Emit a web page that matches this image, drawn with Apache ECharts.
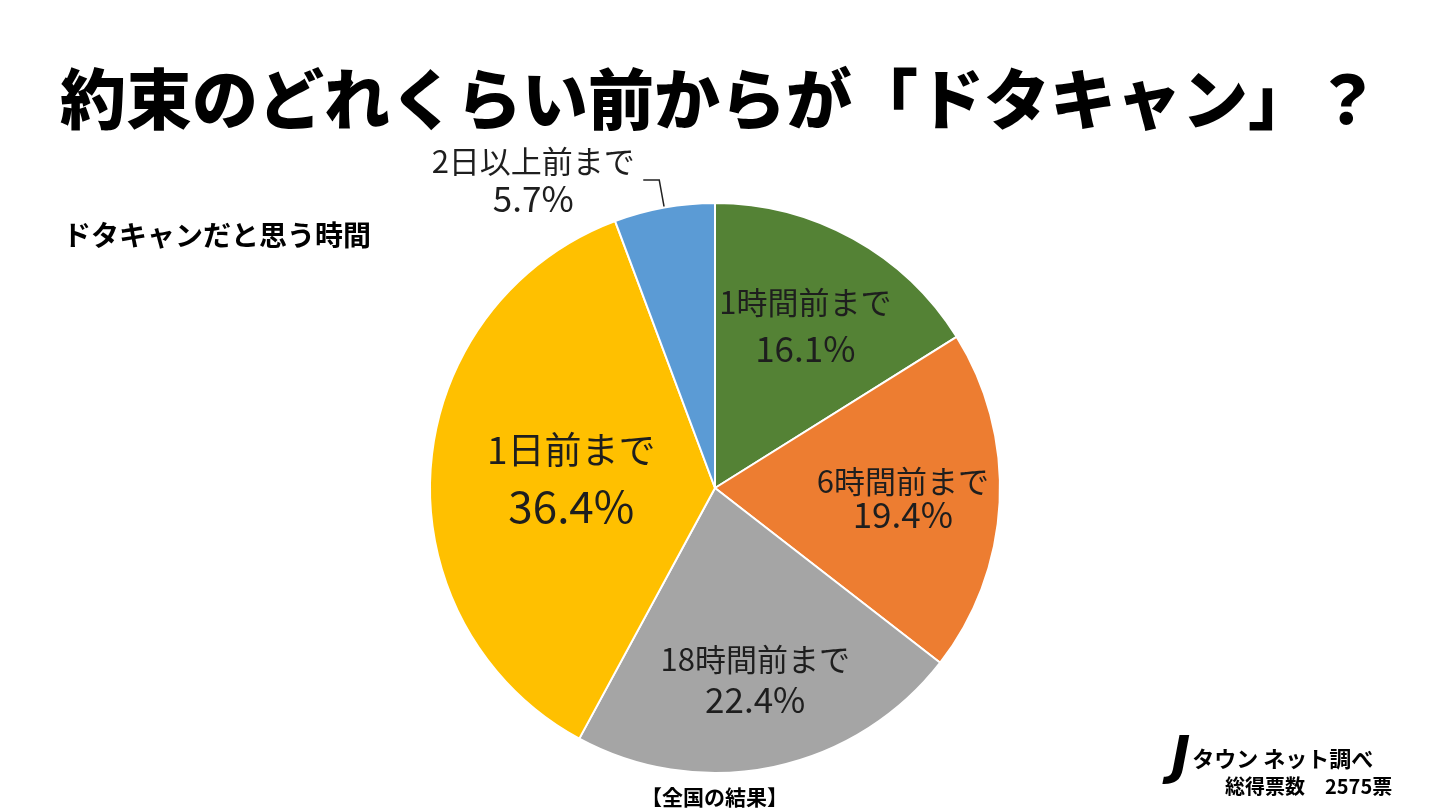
<!DOCTYPE html>
<html>
<head>
<meta charset="utf-8">
<script src="https://cdn.jsdelivr.net/npm/echarts@6/dist/echarts.min.js"></script>
<style>
html,body{margin:0;padding:0;background:#fff;}
#chart{width:1440px;height:810px;}
</style>
</head>
<body>
<div id="chart"></div>
<script>
const categories = ['1時間前まで', '6時間前まで', '18時間前まで', '1日前まで', '2日以上前まで'];
const values = [16.1, 19.4, 22.4, 36.4, 5.7];
const colors = ['#548235', '#ED7D31', '#A5A5A5', '#FFC000', '#5B9BD5'];

const FONT = '"Noto Sans CJK JP", "Noto Sans", sans-serif';
const CX = 715, CY = 488, R = 285;
// radial position of each inside label, as a fraction of the radius
const labelRadiusFrac = [0.65, 0.66, 0.69, 0.505, null];
const labelStyle = [
  { t: 31, p: 35, lh: 46 },
  { t: 31, p: 35, lh: 34 },
  { t: 31, p: 35, lh: 41 },
  { t: 37, p: 44, lh: 56 },
  { t: 31, p: 35, lh: 38 }
];

const data = categories.map((name, i) => {
  const st = labelStyle[i];
  const item = {
    name: name,
    value: values[i],
    itemStyle: { color: colors[i] },
    label: {
      show: true,
      position: 'inside',
      formatter: '{t|{b}}\n{p|{c}%}',
      rich: {
        t: { fontSize: st.t, lineHeight: st.lh, color: '#1e1e1e', fontFamily: FONT, align: 'center' },
        p: { fontSize: st.p, lineHeight: st.lh, color: '#1e1e1e', fontFamily: FONT, align: 'center' }
      }
    }
  };
  if (labelRadiusFrac[i] === null) {
    item.label.position = 'outside';
    item.label.rich.t.width = 210;
    item.label.rich.p.width = 210;
    item.labelLine = {
      show: true,
      length: 28,
      length2: 16,
      lineStyle: { color: '#222', width: 1.5 }
    };
  }
  return item;
});

const chart = echarts.init(document.getElementById('chart'));
chart.setOption({
  backgroundColor: '#ffffff',
  animation: false,
  title: [
    {
      text: '約束のどれくらい前からが「ドタキャン」？',
      left: 'center',
      top: 61,
      textStyle: { fontSize: 66, fontWeight: 900, color: '#000', fontFamily: FONT }
    },
    {
      text: 'ドタキャンだと思う時間',
      left: 58,
      top: 216,
      textStyle: { fontSize: 28, fontWeight: 'bold', color: '#000', fontFamily: FONT }
    },
    {
      text: '【全国の結果】',
      left: 636,
      top: 782,
      textStyle: { fontSize: 21, fontWeight: 'bold', color: '#000', fontFamily: FONT }
    },
    {
      text: '{j|J}{t|タウン ネット調べ}',
      left: 1166,
      top: 728,
      textStyle: {
        rich: {
          j: { fontSize: 52, fontWeight: 'bold', fontStyle: 'italic', color: '#000', fontFamily: '"DejaVu Sans", sans-serif', padding: [0, 2, 0, 0] },
          t: { fontSize: 22, fontWeight: 'bold', color: '#000', fontFamily: FONT, verticalAlign: 'middle' }
        }
      }
    },
    {
      text: '総得票数　2575票',
      left: 1220,
      top: 771,
      textStyle: { fontSize: 20, fontWeight: 'bold', color: '#000', fontFamily: FONT }
    }
  ],
  series: [
    {
      type: 'pie',
      center: [CX, CY],
      radius: [0, R],
      startAngle: 90,
      clockwise: true,
      avoidLabelOverlap: false,
      silent: true,
      itemStyle: { borderColor: '#ffffff', borderWidth: 2 },
      labelLine: { show: false },
      labelLayout: function (params) {
        const k = labelRadiusFrac[params.dataIndex];
        if (k === null || k === undefined) return {};
        const rect = params.labelRect;
        const lx = rect.x + rect.width / 2;
        const ly = rect.y + rect.height / 2;
        const vx = lx - CX, vy = ly - CY;
        const r = Math.sqrt(vx * vx + vy * vy) || 1;
        const s = (k * R) / r - 1;
        return { dx: vx * s, dy: vy * s };
      },
      data: data
    }
  ]
});
</script>
</body>
</html>
